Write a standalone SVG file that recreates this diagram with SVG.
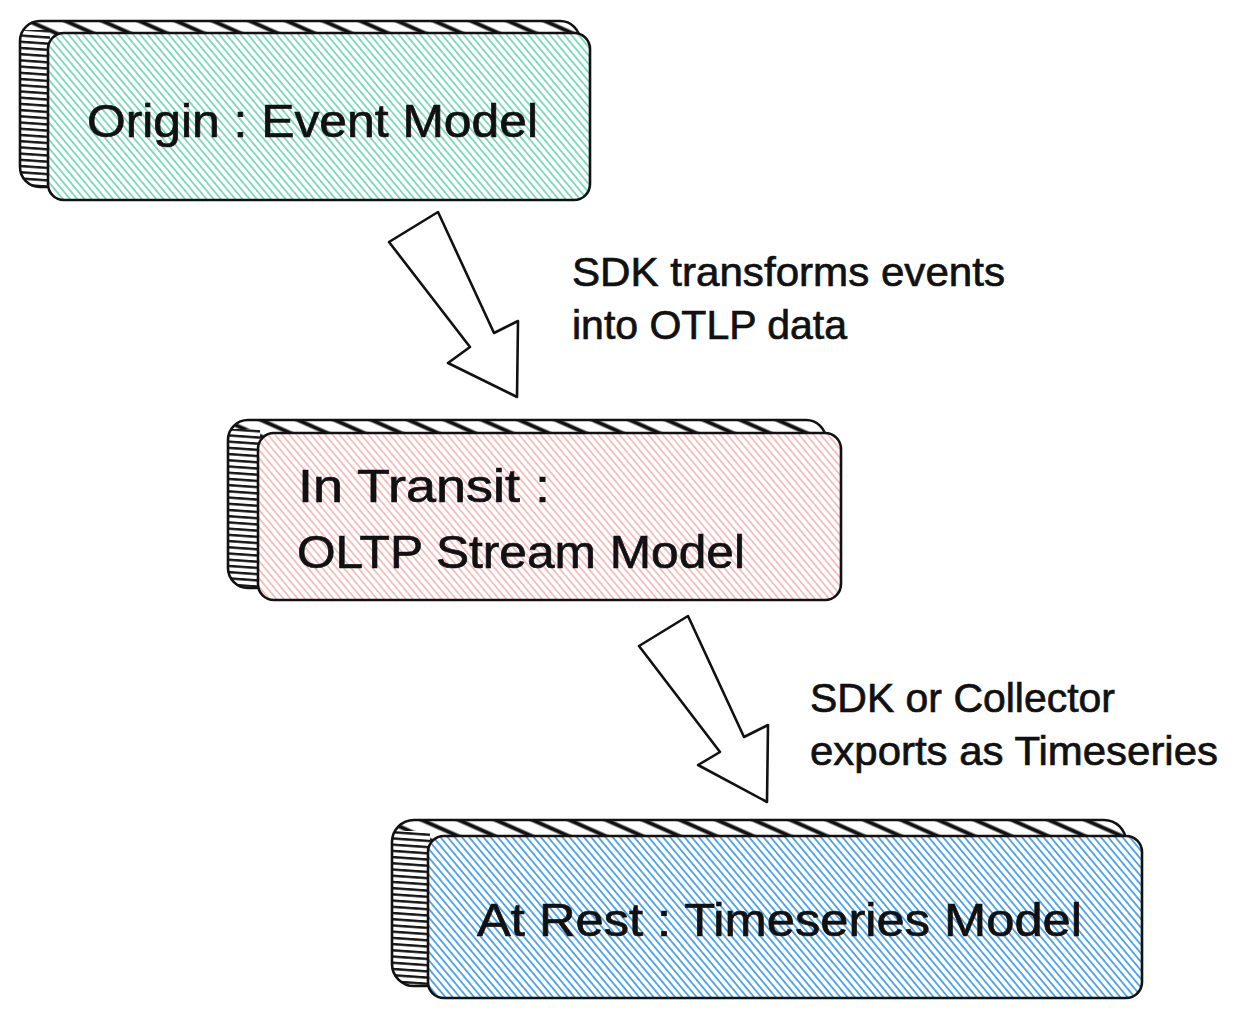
<svg xmlns="http://www.w3.org/2000/svg" width="1242" height="1020" viewBox="0 0 1242 1020">
<style>
  .edge { fill: none; stroke: #111; stroke-width: 2.6; stroke-linejoin: round; }
  .face { fill: #fff; }
  .arrow { fill: #fff; stroke: #111; stroke-width: 2.6; stroke-linejoin: round; }
  .t { font-family: "Liberation Sans", "DejaVu Sans", sans-serif; fill: #111; stroke: #111; stroke-width: 0.7; }
  .node-t { font-size: 47px; }
  .lbl { font-size: 41px; }
</style>
<defs>
  <pattern id="hGreen" patternUnits="userSpaceOnUse" width="20" height="5.5" patternTransform="rotate(50)">
    <line x1="0" y1="2.75" x2="20" y2="2.75" stroke="#52cfa3" stroke-width="1.4"/>
  </pattern>
  <pattern id="hPink" patternUnits="userSpaceOnUse" width="20" height="5.5" patternTransform="rotate(50)">
    <line x1="0" y1="2.75" x2="20" y2="2.75" stroke="#f2a9a9" stroke-width="1.4"/>
  </pattern>
  <pattern id="hBlue" patternUnits="userSpaceOnUse" width="20" height="5.5" patternTransform="rotate(50)">
    <line x1="0" y1="2.75" x2="20" y2="2.75" stroke="#2590e3" stroke-width="1.5"/>
  </pattern>
  <pattern id="hTop" patternUnits="userSpaceOnUse" width="100" height="15" patternTransform="rotate(24)">
    <line x1="0" y1="7.5" x2="100" y2="7.5" stroke="#111" stroke-width="4"/>
  </pattern>
  <pattern id="hLeft" patternUnits="userSpaceOnUse" width="20" height="6.2" patternTransform="rotate(4)">
    <line x1="0" y1="3" x2="20" y2="3" stroke="#111" stroke-width="2.4"/>
  </pattern>
  <clipPath id="c1"><rect x="20" y="21" width="560" height="166" rx="20"/></clipPath>
  <clipPath id="c2"><rect x="228" y="420" width="598" height="168" rx="20"/></clipPath>
  <clipPath id="c3"><rect x="392" y="820" width="734" height="166" rx="22"/></clipPath>
</defs>
<rect width="1242" height="1020" fill="#fff"/>

<g id="node-origin">
  <rect class="face" x="20" y="21" width="560" height="166" rx="20"/>
  <rect x="20" y="21" width="560" height="166" rx="20" fill="url(#hTop)"/>
  <rect x="20" y="30" width="30" height="160" fill="#fff" clip-path="url(#c1)"/>
  <rect x="20" y="30" width="30" height="160" fill="url(#hLeft)" clip-path="url(#c1)"/>
  <rect class="edge" x="20" y="21" width="560" height="166" rx="20"/>
  <rect class="face" x="48" y="33" width="542" height="167" rx="16"/>
  <rect x="48" y="33" width="542" height="167" rx="16" fill="url(#hGreen)"/>
  <rect class="edge" x="48" y="33" width="542" height="167" rx="16"/>
  <text class="t node-t" x="87" y="137" textLength="451" lengthAdjust="spacingAndGlyphs">Origin : Event Model</text>
</g>

<g id="node-transit">
  <rect class="face" x="228" y="420" width="598" height="168" rx="20"/>
  <rect x="228" y="420" width="598" height="168" rx="20" fill="url(#hTop)"/>
  <rect x="228" y="429" width="32" height="162" fill="#fff" clip-path="url(#c2)"/>
  <rect x="228" y="429" width="32" height="162" fill="url(#hLeft)" clip-path="url(#c2)"/>
  <rect class="edge" x="228" y="420" width="598" height="168" rx="20"/>
  <rect class="face" x="258" y="433" width="583" height="167" rx="16"/>
  <rect x="258" y="433" width="583" height="167" rx="16" fill="url(#hPink)"/>
  <rect class="edge" x="258" y="433" width="583" height="167" rx="16"/>
  <text class="t node-t" x="298" y="502" textLength="252" lengthAdjust="spacingAndGlyphs">In Transit :</text>
  <text class="t node-t" x="297" y="568" textLength="448" lengthAdjust="spacingAndGlyphs">OLTP Stream Model</text>
</g>

<g id="node-rest">
  <rect class="face" x="392" y="820" width="734" height="166" rx="22"/>
  <rect x="392" y="820" width="734" height="166" rx="22" fill="url(#hTop)"/>
  <rect x="392" y="831" width="38" height="158" fill="#fff" clip-path="url(#c3)"/>
  <rect x="392" y="831" width="38" height="158" fill="url(#hLeft)" clip-path="url(#c3)"/>
  <rect class="edge" x="392" y="820" width="734" height="166" rx="22"/>
  <rect class="face" x="428" y="836" width="714" height="162" rx="16"/>
  <rect x="428" y="836" width="714" height="162" rx="16" fill="url(#hBlue)"/>
  <rect class="edge" x="428" y="836" width="714" height="162" rx="16"/>
  <text class="t node-t" x="477" y="936" textLength="605" lengthAdjust="spacingAndGlyphs">At Rest : Timeseries Model</text>
</g>

<g id="connectors">
  <polygon class="arrow" points="389,242 438,212 494,333 518,321 517,397 448,363 470,347"/>
  <polygon class="arrow" points="639,646 688,616 744,737 768,725 767,802 698,765 720,752"/>
  <text class="t lbl" x="572" y="286" textLength="433" lengthAdjust="spacingAndGlyphs">SDK transforms events</text>
  <text class="t lbl" x="572" y="339" textLength="275" lengthAdjust="spacingAndGlyphs">into OTLP data</text>
  <text class="t lbl" x="810" y="712" textLength="305" lengthAdjust="spacingAndGlyphs">SDK or Collector</text>
  <text class="t lbl" x="810" y="765" textLength="408" lengthAdjust="spacingAndGlyphs">exports as Timeseries</text>
</g>
</svg>
